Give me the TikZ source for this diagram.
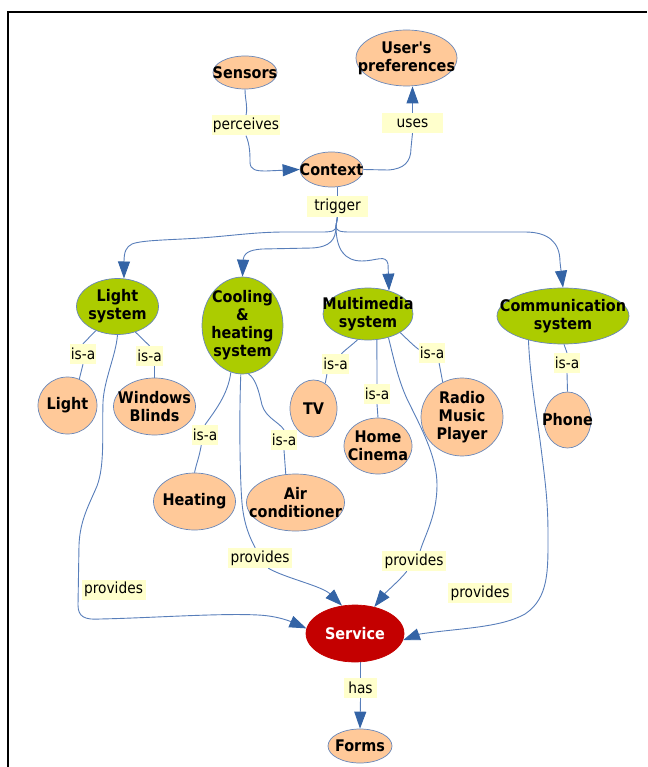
\documentclass[tikz,border=0pt]{standalone}
\usepackage{fontspec}
\setmainfont{DejaVu Sans Condensed}
\usetikzlibrary{shapes.geometric,arrows.meta}
\definecolor{orangeC}{RGB}{255,201,153}
\definecolor{greenC}{RGB}{172,204,0}
\definecolor{redC}{RGB}{196,0,0}
\definecolor{lineC}{RGB}{88,126,186}
\definecolor{borderC}{RGB}{105,135,185}
\definecolor{arrowC}{RGB}{52,100,166}
\definecolor{labY}{RGB}{255,255,204}
\pgfdeclarelayer{edges}
\pgfsetlayers{edges,main}
\begin{document}
\begin{tikzpicture}[x=1pt,y=-1pt,
  cnode/.style={ellipse,draw=borderC,line width=0.7pt,fill=orangeC,inner sep=0pt},
  sysnode/.style={cnode,fill=greenC},
  ctext/.style={align=center,font=\fontsize{16}{18}\selectfont\bfseries,inner sep=0pt},
  lab/.style={fill=labY,inner xsep=1pt,inner ysep=0pt,minimum height=20pt,font=\fontsize{15.3}{17}\selectfont},
  link/.style={draw=lineC,line width=0.9pt},
  arr/.style={-{Triangle[length=17pt,width=12pt,color=arrowC]}},
]
\useasboundingbox (0,0) rectangle (647,767);
\draw[line width=1.3pt] (8,767) -- (8,12) -- (647,12);

% concepts
\node[cnode,minimum width=64pt,minimum height=33pt,label={[ctext]center:Sensors}] (sensors) at (245,72.5) {};
\node[cnode,minimum width=101pt,minimum height=56pt,label={[ctext]center:{User\textquotesingle s\\preferences}}] (prefs) at (406.5,58) {};
\node[cnode,minimum width=63pt,minimum height=35pt,label={[ctext]center:Context}] (context) at (331.5,169.5) {};
\node[sysnode,minimum width=82pt,minimum height=56pt,label={[ctext]center:{Light\\system}}] (lightsys) at (117.5,306.5) {};
\node[sysnode,minimum width=81pt,minimum height=97pt,label={[ctext]center:{Cooling\\\&\\heating\\system}}] (cool) at (242.5,325.5) {};
\node[sysnode,minimum width=90pt,minimum height=52pt,label={[ctext]center:{Multimedia\\system}}] (mm) at (368,314) {};
\node[sysnode,minimum width=132pt,minimum height=56pt,label={[ctext]center:{Communication\\system}}] (comm) at (563,316) {};
\node[cnode,minimum width=59pt,minimum height=57pt,label={[ctext]center:Light}] (light) at (67.5,405.5) {};
\node[cnode,minimum width=82pt,minimum height=57pt,label={[ctext]center:{Windows\\Blinds}}] (blinds) at (154.5,406.5) {};
\node[cnode,minimum width=47pt,minimum height=57pt,label={[ctext]center:TV}] (tv) at (313.5,408.5) {};
\node[cnode,minimum width=68pt,minimum height=56pt,label={[ctext]center:{Home\\Cinema}}] (hc) at (378,446) {};
\node[cnode,minimum width=82pt,minimum height=78pt,label={[ctext]center:{Radio\\Music\\Player}}] (radio) at (462,417) {};
\node[cnode,minimum width=47pt,minimum height=56pt,label={[ctext]center:Phone}] (phone) at (567.5,420) {};
\node[cnode,minimum width=82pt,minimum height=57pt,label={[ctext]center:Heating}] (heat) at (194.5,501.5) {};
\node[cnode,minimum width=98pt,minimum height=57pt,label={[ctext]center:{Air\\conditioner}}] (aircon) at (295.5,502.5) {};
\node[cnode,fill=redC,draw=redC,minimum width=98pt,minimum height=57pt,label={[ctext,text=white]center:Service}] (service) at (355,633.5) {};
\node[cnode,minimum width=64pt,minimum height=34pt,label={[ctext]center:Forms}] (forms) at (360,746) {};

% linking phrases
\node[lab] (perc) at (246,125.5) {perceives};
\node[lab,minimum width=61pt] (uses) at (412.5,123) {uses};
\node[lab,minimum width=61pt] (trig) at (337.5,206.5) {trigger};
\node[lab] (isa1) at (83,354) {is-a};
\node[lab] (isa2) at (149.5,356) {is-a};
\node[lab] (isa3) at (205,435) {is-a};
\node[lab] (isa4) at (284,440) {is-a};
\node[lab] (isa5) at (335.5,364) {is-a};
\node[lab] (isa6) at (377,394) {is-a};
\node[lab] (isa7) at (432,353) {is-a};
\node[lab] (isa8) at (567,363) {is-a};
\node[lab,minimum width=64pt] (prov1) at (113.5,589.5) {provides};
\node[lab,minimum width=64pt] (prov2) at (260,558) {provides};
\node[lab,minimum width=64pt] (prov3) at (414,561) {provides};
\node[lab,minimum width=64pt] (prov4) at (480,593) {provides};
\node[lab,minimum width=33pt] (has) at (360.5,688) {has};

\begin{pgfonlayer}{edges}
\draw[link] (sensors.south) .. controls (245,100) and (248,106) .. (perc.north);
\draw[link,arr] (perc.south) .. controls (250,145) and (250,155) .. (250,162) .. controls (250,170) and (256,171) .. (266,171) -- (context.west);
\draw[link] (context.east) -- (388,170) .. controls (404,169) and (411,162) .. (411,148) -- (uses.south);
\draw[link,arr] (uses.north) -- (uses.north |- prefs.south);
\draw[link] (context.south -| trig.north) -- (trig.north);
\draw[link,arr] (trig.south) -- (336,226) .. controls (336,231) and (332,232) .. (322,232) -- (285,232) .. controls (255,232) and (230,236) .. (200,238) .. controls (170,240) and (142,240) .. (132,244) .. controls (126,247) and (124,252) .. (124,262) -- (lightsys.77);
\draw[link,arr] (trig.south) -- (336,226) .. controls (336,240) and (330,247) .. (312,248) -- (262,249) .. controls (249,250) and (243,253) .. (243,262) -- (cool.north);
\draw[link,arr] (trig.south) -- (336,226) .. controls (336,250) and (345,261) .. (362,261) .. controls (376,261) and (386,254) .. (388,264) -- (mm.48);
\draw[link,arr] (trig.south) -- (336,226) .. controls (336,231) and (340,232) .. (350,232) -- (525,232) .. controls (548,232) and (560,242) .. (560,262) -- (comm.north);
% is-a
\draw[link] (lightsys.228) -- (isa1.north);
\draw[link] (isa1.south) -- (light.66);
\draw[link] (lightsys.305) -- (isa2.north);
\draw[link] (isa2.south -| blinds.north) -- (blinds.north);
\draw[link] (cool.256) .. controls (228,395) and (214,412) .. (isa3.north);
\draw[link] (isa3.250) .. controls (199,458) and (196,465) .. (heat.north);
\draw[link] (cool.277) .. controls (256,379) and (259,392) .. (262,405) .. controls (266,418) and (279,422) .. (isa4.north);
\draw[link] (isa4.south) -- (aircon.109);
\draw[link] (mm.248) .. controls (352,345) and (345,350) .. (isa5.60);
\draw[link] (isa5.230) -- (tv.65);
\draw[link] (mm.289) -- (isa6.north);
\draw[link] (isa6.south) -- (hc.north);
\draw[link] (mm.330) .. controls (408,340) and (414,346) .. (isa7.165);
\draw[link] (isa7.305) -- (radio.119);
\draw[link] (comm.272) -- (isa8.north);
\draw[link] (isa8.south) -- (phone.north);
% provides
\draw[link,arr] (lightsys.south) .. controls (116,355) and (104,380) .. (103,402) .. controls (102,432) and (105,465) .. (97,486) .. controls (89,505) and (80,520) .. (79,545) -- (78,605) .. controls (78,617) and (85,620) .. (100,619) .. controls (150,618) and (220,613) .. (258,615) .. controls (280,616) and (294,623) .. (service.174);
\draw[link] (cool.268) .. controls (239,420) and (240,480) .. (242,503) .. controls (244,525) and (250,538) .. (prov2.115);
\draw[link,arr] (prov2.309) .. controls (285,578) and (322,586) .. (service.115);
\draw[link] (mm.311) .. controls (393,355) and (398,382) .. (410,405) .. controls (425,435) and (437,460) .. (437,485) .. controls (437,515) and (425,535) .. (prov3.59);
\draw[link,arr] (prov3.235) .. controls (400,580) and (386,592) .. (service.54);
\draw[link,arr] (comm.215) .. controls (530,375) and (535,405) .. (540,440) .. controls (545,480) and (548,500) .. (548,535) .. controls (548,570) and (549,598) .. (525,614) .. controls (500,628) and (460,628) .. (420,634) -- (service.352);
\draw[link] (service.south -| has.north) -- (has.north);
\draw[link,arr] (has.south) -- (forms.north);
\end{pgfonlayer}
\end{tikzpicture}
\end{document}
